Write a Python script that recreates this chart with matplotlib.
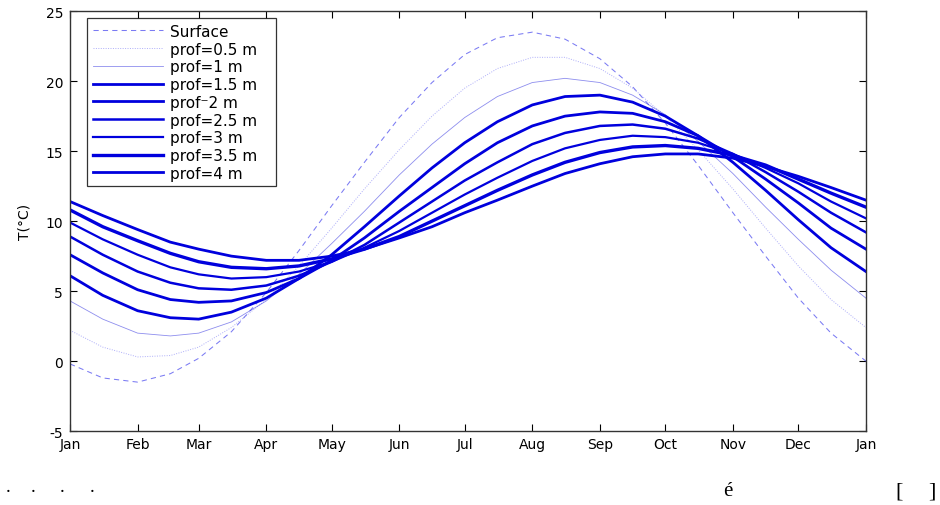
import matplotlib
matplotlib.use("Agg")
import matplotlib.pyplot as plt

# day of year sampled roughly every half month
days = [0, 15, 31, 46, 59, 74, 90, 105, 120, 135, 151, 166, 181,
        196, 212, 227, 243, 258, 273, 288, 304, 319, 334, 349, 365]

t_surface = [-0.2, -1.2, -1.5, -0.9, 0.2, 2.1, 4.9, 7.9, 11.1, 14.2, 17.4, 19.9, 21.9,
             23.1, 23.5, 23.0, 21.6, 19.6, 17.0, 14.0, 10.6, 7.5, 4.5, 2.0, 0.0]
t_05 = [2.2, 1.0, 0.3, 0.4, 1.0, 2.4, 4.4, 6.8, 9.5, 12.3, 15.1, 17.5, 19.5,
        20.9, 21.7, 21.7, 20.9, 19.5, 17.5, 15.1, 12.3, 9.5, 6.8, 4.4, 2.4]
t_10 = [4.3, 3.0, 2.0, 1.8, 2.0, 2.8, 4.3, 6.2, 8.4, 10.7, 13.3, 15.5, 17.4,
        18.9, 19.9, 20.2, 19.9, 19.0, 17.6, 15.7, 13.4, 11.0, 8.7, 6.5, 4.5]
t_15 = [6.1, 4.7, 3.6, 3.1, 3.0, 3.5, 4.5, 5.9, 7.6, 9.6, 11.8, 13.8, 15.6,
        17.1, 18.3, 18.9, 19.0, 18.5, 17.5, 16.1, 14.2, 12.2, 10.1, 8.1, 6.4]
t_20 = [7.6, 6.3, 5.1, 4.4, 4.2, 4.3, 4.9, 5.9, 7.2, 8.8, 10.7, 12.4, 14.1,
        15.6, 16.8, 17.5, 17.8, 17.7, 17.1, 16.1, 14.6, 13.0, 11.3, 9.5, 8.0]
t_25 = [8.9, 7.6, 6.4, 5.6, 5.2, 5.1, 5.4, 6.1, 7.1, 8.3, 9.9, 11.4, 12.9,
        14.2, 15.5, 16.3, 16.8, 16.9, 16.6, 15.9, 14.8, 13.5, 12.1, 10.6, 9.2]
t_30 = [9.9, 8.7, 7.6, 6.7, 6.2, 5.9, 6.0, 6.4, 7.1, 8.1, 9.3, 10.6, 11.9,
        13.1, 14.3, 15.2, 15.8, 16.1, 16.0, 15.6, 14.8, 13.8, 12.7, 11.4, 10.2]
t_35 = [10.8, 9.6, 8.6, 7.7, 7.1, 6.7, 6.6, 6.8, 7.3, 8.0, 8.9, 10.0, 11.1,
        12.2, 13.3, 14.2, 14.9, 15.3, 15.4, 15.2, 14.7, 14.0, 13.0, 12.0, 11.0]
t_40 = [11.4, 10.4, 9.4, 8.5, 8.0, 7.5, 7.2, 7.2, 7.5, 8.0, 8.8, 9.6, 10.6,
        11.5, 12.5, 13.4, 14.1, 14.6, 14.8, 14.8, 14.5, 13.9, 13.2, 12.4, 11.5]

labels = ["Surface", "prof=0.5 m", "prof=1 m", "prof=1.5 m", "prof\u207b2 m",
          "prof=2.5 m", "prof=3 m", "prof=3.5 m", "prof=4 m"]
month_ticks = [0, 31, 59, 90, 120, 151, 181, 212, 243, 273, 304, 334, 365]
month_labels = ["Jan", "Feb", "Mar", "Apr", "May", "Jun", "Jul", "Aug",
                "Sep", "Oct", "Nov", "Dec", "Jan"]

plt.rcParams["font.family"] = ["DejaVu Sans"]
plt.rcParams["axes.unicode_minus"] = False

fig = plt.figure(figsize=(9.4, 5.06), dpi=100)
ax = fig.add_axes([0.0745, 0.146, 0.8467, 0.830])

series = [t_surface, t_05, t_10, t_15, t_20, t_25, t_30, t_35, t_40]
styles = [
    dict(ls=(0, (5, 4)), lw=0.75, color="#5a5af0", alpha=0.8),
    dict(ls=(0, (1, 1.5)), lw=0.7, color="#7878f5", alpha=0.6),
    dict(ls="-", lw=0.6, color="#3030e0", alpha=0.55),
    dict(ls="-", lw=2.0, color="#0000dd"),
    dict(ls="-", lw=2.0, color="#0000dd"),
    dict(ls="-", lw=1.8, color="#0000dd"),
    dict(ls="-", lw=1.6, color="#0000dd"),
    dict(ls="-", lw=2.4, color="#0000dd"),
    dict(ls="-", lw=2.0, color="#0000dd"),
]
for vals, lab, st in zip(series, labels, styles):
    ax.plot(days, vals, label=lab, **st)

ax.set_xlim(0, 365)
ax.set_ylim(-5, 25)
ax.set_yticks(range(-5, 26, 5))
ax.set_xticks(month_ticks)
ax.set_xticklabels(month_labels)
ax.tick_params(direction="in", length=5, width=0.8, labelsize=10,
               top=True, right=True)
ax.tick_params(axis="x", pad=4)
ax.tick_params(axis="y", pad=5)
for sp in ax.spines.values():
    sp.set_linewidth(1.0)
    sp.set_color("#333333")
ax.set_ylabel("T(\u00b0C)", fontsize=10, labelpad=10)

leg = ax.legend(loc="upper left", bbox_to_anchor=(0.0214, 0.5, 0.2374, 0.483),
                mode="expand", borderaxespad=0, fontsize=11, handlelength=4.6,
                labelspacing=0.18, borderpad=0.36, fancybox=False,
                frameon=True, handletextpad=0.5)
leg.get_frame().set_edgecolor("black")
leg.get_frame().set_linewidth(0.9)

# residual caption glyphs below the chart
for xd in [8, 33, 62, 92]:
    fig.text(xd / 940, 1 - 492 / 506, ".", fontsize=14,
             family="Liberation Serif", ha="center", va="baseline")
fig.text(728 / 940, 1 - 496 / 506, "\u00e9", fontsize=15,
         family="Liberation Serif", ha="center", va="baseline")
fig.text(899 / 940, 1 - 497 / 506, "[", fontsize=16,
         family="Liberation Serif", ha="center", va="baseline")
fig.text(932 / 940, 1 - 497 / 506, "]", fontsize=16,
         family="Liberation Serif", ha="center", va="baseline")

fig.savefig("out.png", dpi=100, facecolor="white")
